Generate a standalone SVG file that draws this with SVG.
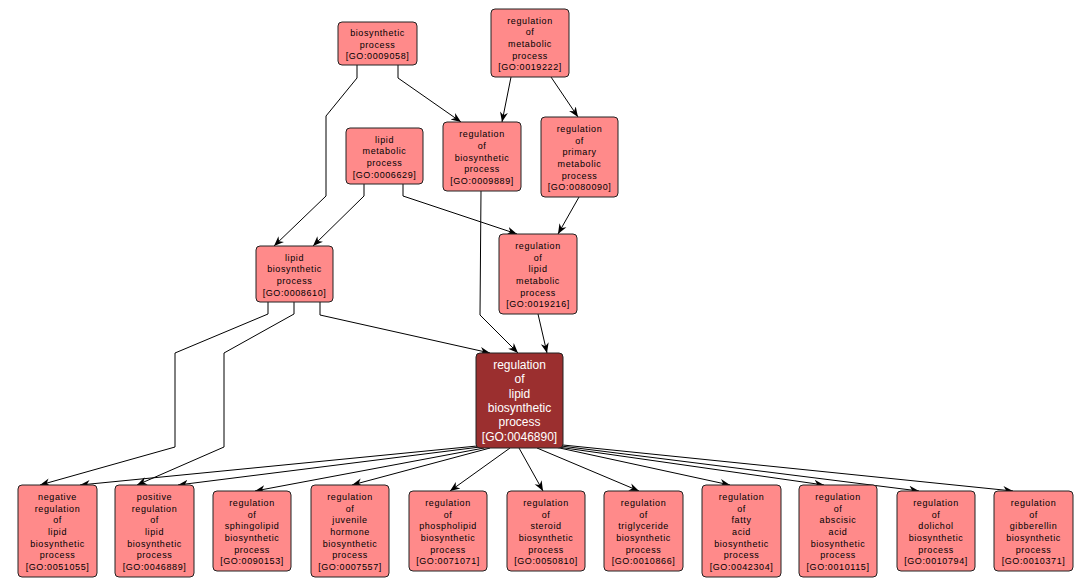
<svg xmlns="http://www.w3.org/2000/svg" width="1092" height="588" viewBox="0 0 1092 588">
<defs>
<marker id="arr" markerUnits="userSpaceOnUse" markerWidth="10" markerHeight="10" viewBox="0 0 10 10" refX="10" refY="5" orient="auto">
<path d="M0,1 L10,5 L0,9 L3,5 z" fill="#000"/>
</marker>
<style>
.n rect{fill:#ff8a8a;stroke:#222;stroke-width:1}
.n text{font-family:"Liberation Sans",Arial,sans-serif;font-size:9px;letter-spacing:0.6px;fill:#000;text-anchor:middle}
.d rect{fill:#9b2f2f;stroke:#222;stroke-width:1}
.d text{font-family:"Liberation Sans",Arial,sans-serif;font-size:12px;fill:#fff;text-anchor:middle}
.e path{fill:none;stroke:#000;stroke-width:1;marker-end:url(#arr)}
</style>
</defs>
<rect width="1092" height="588" fill="#fff"/>
<g id="edges" class="e">
<path d="M357,65 L357,78 L326,116 L326,196 L274,246"/>
<path d="M364,184 L364,196 L313,246"/>
<path d="M403,184 L403,196 L517,234"/>
<path d="M398,65 L398,78 L461,122"/>
<path d="M511,77 L502,122"/>
<path d="M551,77 L578,117"/>
<path d="M579,197 L558,234"/>
<path d="M481,191 L480,315 L518,353"/>
<path d="M538,314 L547,353"/>
<path d="M320,302 L320,315 L490,353"/>
<path d="M268,302 L268,314 L175,353 L175,447 L40,485"/>
<path d="M294,302 L294,314 L224,353 L224,447 L137,485"/>
<path d="M477,446 L80,485"/>
<path d="M480,447 L178,485"/>
<path d="M484,448 L255,491"/>
<path d="M490,448 L352,485"/>
<path d="M510,448 L450,491"/>
<path d="M519,448 L543,491"/>
<path d="M537,448 L639,491"/>
<path d="M555,447 L730,485"/>
<path d="M558,447 L824,485"/>
<path d="M561,446 L919,491"/>
<path d="M563,445 L1013,491"/>
</g>
<g id="GO0009058" class="n"><rect x="338" y="22" width="79" height="43" rx="4"/><text x="377.5"><tspan x="377.5" y="35.8">biosynthetic</tspan><tspan x="377.5" y="47.5">process</tspan><tspan x="377.5" y="59.2">[GO:0009058]</tspan></text></g>
<g id="GO0019222" class="n"><rect x="491" y="9" width="78" height="68" rx="4"/><text><tspan x="530" y="23.6">regulation</tspan><tspan x="530" y="35.3">of</tspan><tspan x="530" y="47">metabolic</tspan><tspan x="530" y="58.7">process</tspan><tspan x="530" y="70.4">[GO:0019222]</tspan></text></g>
<g id="GO0006629" class="n"><rect x="346" y="128" width="77" height="56" rx="4"/><text><tspan x="384.5" y="142.5">lipid</tspan><tspan x="384.5" y="154.2">metabolic</tspan><tspan x="384.5" y="165.9">process</tspan><tspan x="384.5" y="177.6">[GO:0006629]</tspan></text></g>
<g id="GO0009889" class="n"><rect x="443" y="122" width="78" height="69" rx="4"/><text><tspan x="482" y="137.1">regulation</tspan><tspan x="482" y="148.8">of</tspan><tspan x="482" y="160.5">biosynthetic</tspan><tspan x="482" y="172.2">process</tspan><tspan x="482" y="183.9">[GO:0009889]</tspan></text></g>
<g id="GO0080090" class="n"><rect x="541" y="117" width="77" height="80" rx="4"/><text><tspan x="579.5" y="131.8">regulation</tspan><tspan x="579.5" y="143.5">of</tspan><tspan x="579.5" y="155.2">primary</tspan><tspan x="579.5" y="166.9">metabolic</tspan><tspan x="579.5" y="178.6">process</tspan><tspan x="579.5" y="190.3">[GO:0080090]</tspan></text></g>
<g id="GO0008610" class="n"><rect x="256" y="246" width="77" height="56" rx="4"/><text><tspan x="294.5" y="260.5">lipid</tspan><tspan x="294.5" y="272.2">biosynthetic</tspan><tspan x="294.5" y="283.9">process</tspan><tspan x="294.5" y="295.6">[GO:0008610]</tspan></text></g>
<g id="GO0019216" class="n"><rect x="499" y="234" width="78" height="80" rx="4"/><text><tspan x="538" y="248.8">regulation</tspan><tspan x="538" y="260.5">of</tspan><tspan x="538" y="272.2">lipid</tspan><tspan x="538" y="283.9">metabolic</tspan><tspan x="538" y="295.6">process</tspan><tspan x="538" y="307.3">[GO:0019216]</tspan></text></g>
<g id="GO0046890" class="d"><rect x="476" y="353" width="87" height="95" rx="4"/><text><tspan x="519.5" y="368.8">regulation</tspan><tspan x="519.5" y="383.2">of</tspan><tspan x="519.5" y="397.6">lipid</tspan><tspan x="519.5" y="412">biosynthetic</tspan><tspan x="519.5" y="426.4">process</tspan><tspan x="519.5" y="440.8">[GO:0046890]</tspan></text></g>
<g id="GO0051055" class="n"><rect x="18" y="485" width="79" height="92" rx="4"/><text><tspan x="57.5" y="499.9">negative</tspan><tspan x="57.5" y="511.6">regulation</tspan><tspan x="57.5" y="523.3">of</tspan><tspan x="57.5" y="535">lipid</tspan><tspan x="57.5" y="546.7">biosynthetic</tspan><tspan x="57.5" y="558.4">process</tspan><tspan x="57.5" y="570.1">[GO:0051055]</tspan></text></g>
<g id="GO0046889" class="n"><rect x="115" y="485" width="79" height="92" rx="4"/><text><tspan x="154.5" y="499.9">positive</tspan><tspan x="154.5" y="511.6">regulation</tspan><tspan x="154.5" y="523.3">of</tspan><tspan x="154.5" y="535">lipid</tspan><tspan x="154.5" y="546.7">biosynthetic</tspan><tspan x="154.5" y="558.4">process</tspan><tspan x="154.5" y="570.1">[GO:0046889]</tspan></text></g>
<g id="GO0090153" class="n"><rect x="213" y="491" width="78" height="80" rx="4"/><text><tspan x="252" y="505.8">regulation</tspan><tspan x="252" y="517.5">of</tspan><tspan x="252" y="529.2">sphingolipid</tspan><tspan x="252" y="540.9">biosynthetic</tspan><tspan x="252" y="552.6">process</tspan><tspan x="252" y="564.3">[GO:0090153]</tspan></text></g>
<g id="GO0007557" class="n"><rect x="311" y="485" width="78" height="92" rx="4"/><text><tspan x="350" y="499.9">regulation</tspan><tspan x="350" y="511.6">of</tspan><tspan x="350" y="523.3">juvenile</tspan><tspan x="350" y="535">hormone</tspan><tspan x="350" y="546.7">biosynthetic</tspan><tspan x="350" y="558.4">process</tspan><tspan x="350" y="570.1">[GO:0007557]</tspan></text></g>
<g id="GO0071071" class="n"><rect x="409" y="491" width="78" height="80" rx="4"/><text><tspan x="448" y="505.8">regulation</tspan><tspan x="448" y="517.5">of</tspan><tspan x="448" y="529.2">phospholipid</tspan><tspan x="448" y="540.9">biosynthetic</tspan><tspan x="448" y="552.6">process</tspan><tspan x="448" y="564.3">[GO:0071071]</tspan></text></g>
<g id="GO0050810" class="n"><rect x="507" y="491" width="78" height="80" rx="4"/><text><tspan x="546" y="505.8">regulation</tspan><tspan x="546" y="517.5">of</tspan><tspan x="546" y="529.2">steroid</tspan><tspan x="546" y="540.9">biosynthetic</tspan><tspan x="546" y="552.6">process</tspan><tspan x="546" y="564.3">[GO:0050810]</tspan></text></g>
<g id="GO0010866" class="n"><rect x="604" y="491" width="79" height="80" rx="4"/><text><tspan x="643.5" y="505.8">regulation</tspan><tspan x="643.5" y="517.5">of</tspan><tspan x="643.5" y="529.2">triglyceride</tspan><tspan x="643.5" y="540.9">biosynthetic</tspan><tspan x="643.5" y="552.6">process</tspan><tspan x="643.5" y="564.3">[GO:0010866]</tspan></text></g>
<g id="GO0042304" class="n"><rect x="702" y="485" width="79" height="92" rx="4"/><text><tspan x="741.5" y="499.9">regulation</tspan><tspan x="741.5" y="511.6">of</tspan><tspan x="741.5" y="523.3">fatty</tspan><tspan x="741.5" y="535">acid</tspan><tspan x="741.5" y="546.7">biosynthetic</tspan><tspan x="741.5" y="558.4">process</tspan><tspan x="741.5" y="570.1">[GO:0042304]</tspan></text></g>
<g id="GO0010115" class="n"><rect x="799" y="485" width="78" height="92" rx="4"/><text><tspan x="838" y="499.9">regulation</tspan><tspan x="838" y="511.6">of</tspan><tspan x="838" y="523.3">abscisic</tspan><tspan x="838" y="535">acid</tspan><tspan x="838" y="546.7">biosynthetic</tspan><tspan x="838" y="558.4">process</tspan><tspan x="838" y="570.1">[GO:0010115]</tspan></text></g>
<g id="GO0010794" class="n"><rect x="897" y="491" width="78" height="80" rx="4"/><text><tspan x="936" y="505.8">regulation</tspan><tspan x="936" y="517.5">of</tspan><tspan x="936" y="529.2">dolichol</tspan><tspan x="936" y="540.9">biosynthetic</tspan><tspan x="936" y="552.6">process</tspan><tspan x="936" y="564.3">[GO:0010794]</tspan></text></g>
<g id="GO0010371" class="n"><rect x="994" y="491" width="79" height="80" rx="4"/><text><tspan x="1033.5" y="505.8">regulation</tspan><tspan x="1033.5" y="517.5">of</tspan><tspan x="1033.5" y="529.2">gibberellin</tspan><tspan x="1033.5" y="540.9">biosynthetic</tspan><tspan x="1033.5" y="552.6">process</tspan><tspan x="1033.5" y="564.3">[GO:0010371]</tspan></text></g>
</svg>
